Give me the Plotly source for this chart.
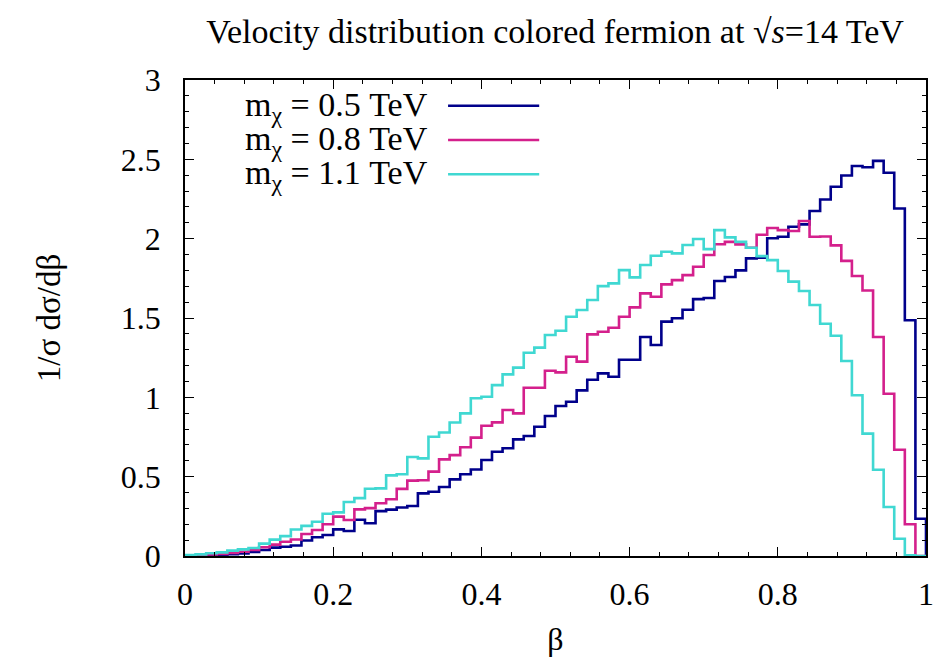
import numpy as np
import plotly.graph_objects as go

# 70 equal-width bins on beta in [0, 1]
n_bins = 70
bin_edges = list(np.linspace(0.0, 1.0, n_bins + 1))

series_names = ["m<sub>χ</sub> = 0.5 TeV", "m<sub>χ</sub> = 0.8 TeV", "m<sub>χ</sub> = 1.1 TeV"]
series_colors = ["#00008B", "#D4208C", "#40D8D2"]

m05 = [0.002, 0.004, 0.006, 0.008, 0.011, 0.016, 0.025, 0.038, 0.053, 0.058,
       0.066, 0.098, 0.118, 0.132, 0.168, 0.158, 0.228, 0.206, 0.283, 0.292,
       0.306, 0.315, 0.395, 0.405, 0.435, 0.483, 0.515, 0.545, 0.605, 0.657,
       0.679, 0.735, 0.756, 0.815, 0.882, 0.945, 0.972, 1.044, 1.111, 1.151,
       1.130, 1.237, 1.237, 1.380, 1.330, 1.477, 1.498, 1.552, 1.619, 1.626,
       1.733, 1.758, 1.800, 1.876, 1.880, 2.003, 2.012, 2.075, 2.090, 2.174,
       2.247, 2.327, 2.398, 2.458, 2.450, 2.490, 2.415, 2.190, 1.486, 0.235]

m08 = [0.002, 0.006, 0.010, 0.013, 0.020, 0.027, 0.038, 0.055, 0.072, 0.090,
       0.104, 0.139, 0.164, 0.200, 0.248, 0.227, 0.294, 0.302, 0.332, 0.358,
       0.423, 0.475, 0.477, 0.532, 0.609, 0.636, 0.685, 0.746, 0.821, 0.842,
       0.920, 0.899, 1.060, 1.060, 1.168, 1.157, 1.256, 1.225, 1.397, 1.413,
       1.439, 1.508, 1.567, 1.655, 1.634, 1.712, 1.739, 1.770, 1.823, 1.897,
       1.965, 1.980, 1.964, 1.943, 2.025, 2.067, 2.054, 2.048, 2.111, 2.012,
       2.014, 1.958, 1.860, 1.765, 1.673, 1.380, 1.023, 0.670, 0.200, 0.000]

m11 = [0.006, 0.010, 0.017, 0.023, 0.034, 0.042, 0.050, 0.078, 0.103, 0.125,
       0.167, 0.190, 0.216, 0.266, 0.275, 0.340, 0.365, 0.424, 0.426, 0.508,
       0.515, 0.624, 0.615, 0.752, 0.778, 0.841, 0.899, 0.994, 1.004, 1.077,
       1.145, 1.187, 1.281, 1.313, 1.393, 1.420, 1.508, 1.550, 1.613, 1.701,
       1.718, 1.802, 1.756, 1.834, 1.892, 1.918, 1.907, 1.960, 1.998, 1.934,
       2.054, 2.008, 1.980, 1.943, 1.890, 1.865, 1.796, 1.729, 1.670, 1.582,
       1.464, 1.388, 1.229, 1.013, 0.771, 0.544, 0.309, 0.109, 0.005, 0.000]

x_ticks = [0, 0.2, 0.4, 0.6, 0.8, 1]
y_ticks = [0, 0.5, 1, 1.5, 2, 2.5, 3]

FONT = '"Liberation Serif", "Times New Roman", serif'

fig = go.Figure()
for name, vals, col in zip(series_names, [m05, m08, m11], series_colors):
    xs = bin_edges + [bin_edges[-1]]
    ys = list(vals) + [vals[-1], 0.0]
    fig.add_trace(go.Scatter(x=xs, y=ys, mode="lines", line_shape="hv",
                             line=dict(color=col, width=2.6), name=name,
                             showlegend=False, hoverinfo="skip"))

# gnuplot-style key: text right-aligned, sample line to the right
key_y = [0.944, 0.872, 0.800]
for name, col, ky in zip(series_names, series_colors, key_y):
    fig.add_annotation(xref="paper", yref="paper", x=0.330, y=ky, text=name,
                       showarrow=False, xanchor="right", yanchor="middle",
                       font=dict(family=FONT, size=34, color="black"))
    fig.add_shape(type="line", xref="paper", yref="paper", x0=0.355, x1=0.478,
                  y0=ky + 0.002, y1=ky + 0.002, line=dict(color=col, width=2.6))

fig.update_layout(
    width=936, height=658,
    margin=dict(l=185, r=10, t=80, b=102, autoexpand=False),
    paper_bgcolor="white", plot_bgcolor="white",
    font=dict(family=FONT, size=32, color="black"),
    title=dict(text="Velocity distribution colored fermion at √<i>s</i>=14 TeV",
               x=0.593, xanchor="center", y=0.953, yanchor="middle",
               font=dict(family=FONT, size=34, color="black")),
)
fig.update_xaxes(range=[0, 1], tickvals=x_ticks, ticktext=[str(t) for t in x_ticks],
                 ticks="inside", ticklen=9, tickwidth=1.2, tickcolor="black",
                 showline=True, linecolor="black", linewidth=1.5, mirror="allticks",
                 showgrid=False, zeroline=False, ticklabelstandoff=9,
                 tickfont=dict(family=FONT, size=32),
                 minor=dict(dtick=0.04, tick0=0, ticks="inside", ticklen=4.5,
                            tickwidth=1.0, tickcolor="black", showgrid=False),
                 title=dict(text="β", standoff=16, font=dict(family=FONT, size=32)))
fig.update_yaxes(range=[0, 3], tickvals=y_ticks, ticktext=[("%g" % t) for t in y_ticks],
                 ticks="inside", ticklen=9, tickwidth=1.2, tickcolor="black",
                 showline=True, linecolor="black", linewidth=1.5, mirror="allticks",
                 showgrid=False, zeroline=False, ticklabelstandoff=16,
                 tickfont=dict(family=FONT, size=32),
                 minor=dict(dtick=0.1, tick0=0, ticks="inside", ticklen=4.5,
                            tickwidth=1.0, tickcolor="black", showgrid=False),
                 title=dict(text="1/σ dσ/dβ", standoff=50, font=dict(family=FONT, size=33)))

fig.write_html("out.html")
